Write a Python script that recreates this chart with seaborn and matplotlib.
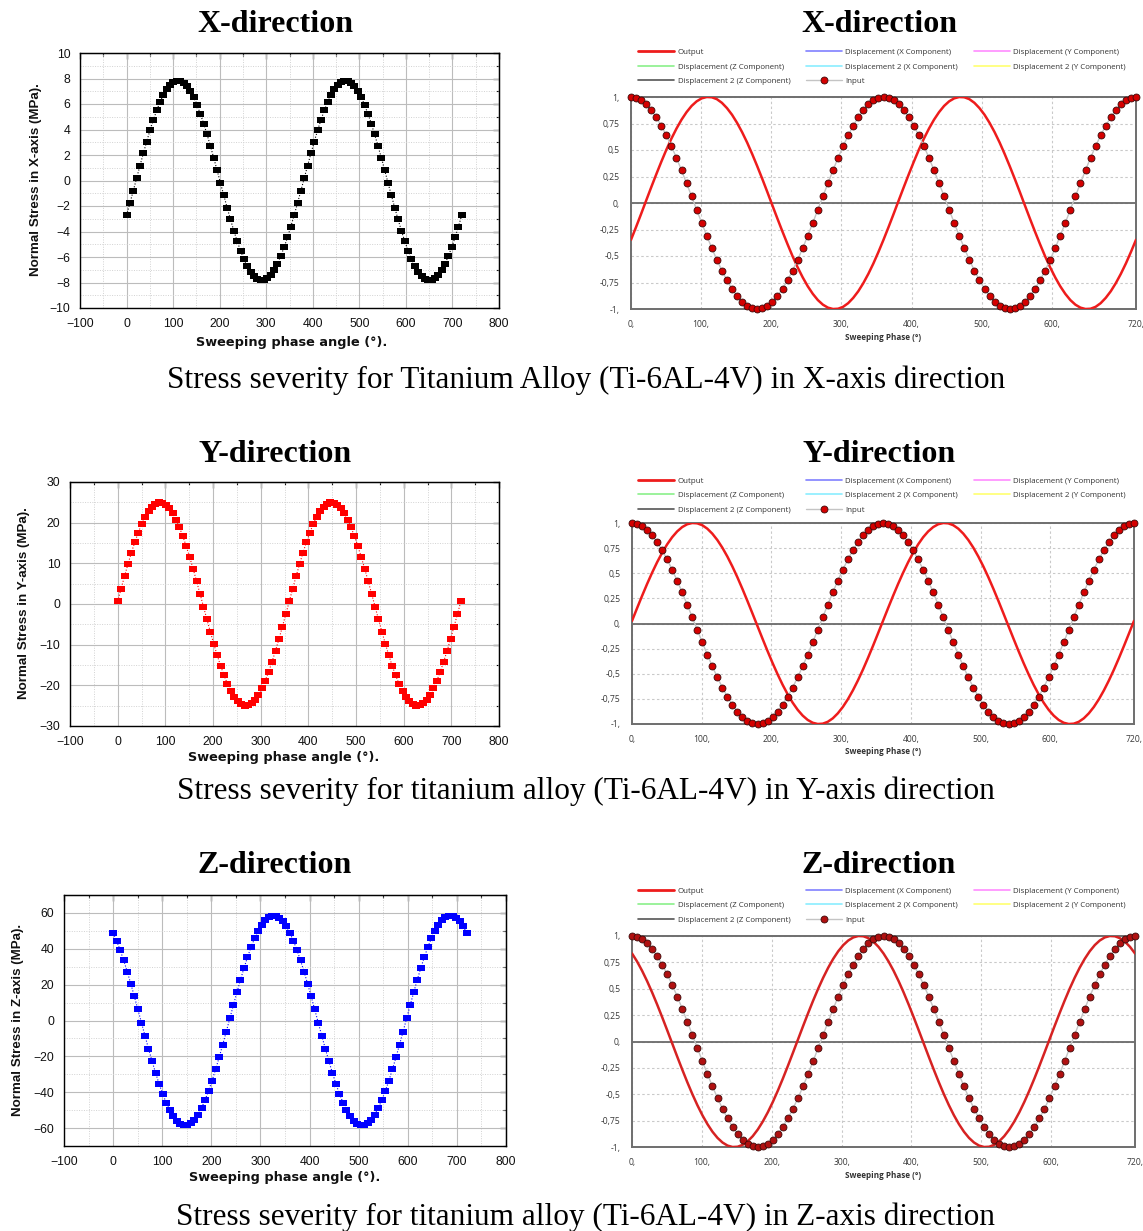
import numpy as np
import pandas as pd
import matplotlib
matplotlib.use("Agg")
import matplotlib.pyplot as plt
from matplotlib.lines import Line2D
from matplotlib.ticker import MultipleLocator, FixedLocator
import seaborn as sns

# ---------------------------------------------------------------- data
phase_deg = np.linspace(0, 720, 101)

stress_x = [
    -2.72, -1.78, -0.81, 0.18, 1.16, 2.12, 3.05, 3.94, 4.76, 5.50,
    6.16, 6.72, 7.18, 7.52, 7.74, 7.84, 7.82, 7.68, 7.41, 7.02,
    6.53, 5.93, 5.24, 4.47, 3.62, 2.72, 1.78, 0.81, -0.18, -1.16,
    -2.12, -3.05, -3.94, -4.76, -5.50, -6.16, -6.72, -7.18, -7.52, -7.74,
    -7.84, -7.82, -7.68, -7.41, -7.02, -6.53, -5.93, -5.24, -4.47, -3.62,
    -2.72, -1.78, -0.81, 0.18, 1.16, 2.12, 3.05, 3.94, 4.76, 5.50,
    6.16, 6.72, 7.18, 7.52, 7.74, 7.84, 7.82, 7.68, 7.41, 7.02,
    6.53, 5.93, 5.24, 4.47, 3.62, 2.72, 1.78, 0.81, -0.18, -1.16,
    -2.12, -3.05, -3.94, -4.76, -5.50, -6.16, -6.72, -7.18, -7.52, -7.74,
    -7.84, -7.82, -7.68, -7.41, -7.02, -6.53, -5.93, -5.24, -4.47, -3.62,
    -2.72,
]

stress_y = [
    0.65, 3.78, 6.85, 9.81, 12.61, 15.22, 17.58, 19.67, 21.45, 22.89,
    23.97, 24.67, 24.98, 24.90, 24.43, 23.57, 22.33, 20.75, 18.84, 16.63,
    14.16, 11.47, 8.59, 5.58, 2.48, -0.65, -3.78, -6.85, -9.81, -12.61,
    -15.22, -17.58, -19.67, -21.45, -22.89, -23.97, -24.67, -24.98, -24.90, -24.43,
    -23.57, -22.33, -20.75, -18.84, -16.63, -14.16, -11.47, -8.59, -5.58, -2.48,
    0.65, 3.78, 6.85, 9.81, 12.61, 15.22, 17.58, 19.67, 21.45, 22.89,
    23.97, 24.67, 24.98, 24.90, 24.43, 23.57, 22.33, 20.75, 18.84, 16.63,
    14.16, 11.47, 8.59, 5.58, 2.48, -0.65, -3.78, -6.85, -9.81, -12.61,
    -15.22, -17.58, -19.67, -21.45, -22.89, -23.97, -24.67, -24.98, -24.90, -24.43,
    -23.57, -22.33, -20.75, -18.84, -16.63, -14.16, -11.47, -8.59, -5.58, -2.48,
    0.65,
]

stress_z = [
    48.78, 44.35, 39.22, 33.47, 27.19, 20.49, 13.46, 6.22, -1.12, -8.45,
    -15.63, -22.57, -29.16, -35.29, -40.86, -45.78, -49.99, -53.40, -55.97, -57.66,
    -58.44, -58.30, -57.24, -55.28, -52.45, -48.78, -44.35, -39.22, -33.47, -27.19,
    -20.49, -13.46, -6.22, 1.12, 8.45, 15.63, 22.57, 29.16, 35.29, 40.86,
    45.78, 49.99, 53.40, 55.97, 57.66, 58.44, 58.30, 57.24, 55.28, 52.45,
    48.78, 44.35, 39.22, 33.47, 27.19, 20.49, 13.46, 6.22, -1.12, -8.45,
    -15.63, -22.57, -29.16, -35.29, -40.86, -45.78, -49.99, -53.40, -55.97, -57.66,
    -58.44, -58.30, -57.24, -55.28, -52.45, -48.78, -44.35, -39.22, -33.47, -27.19,
    -20.49, -13.46, -6.22, 1.12, 8.45, 15.63, 22.57, 29.16, 35.29, 40.86,
    45.78, 49.99, 53.40, 55.97, 57.66, 58.44, 58.30, 57.24, 55.28, 52.45,
    48.78,
]

input_signal = [
    1.000, 0.992, 0.969, 0.930, 0.876, 0.809, 0.729, 0.637, 0.536, 0.426,
    0.309, 0.187, 0.063, -0.063, -0.187, -0.309, -0.426, -0.536, -0.637, -0.729,
    -0.809, -0.876, -0.930, -0.969, -0.992, -1.000, -0.992, -0.969, -0.930, -0.876,
    -0.809, -0.729, -0.637, -0.536, -0.426, -0.309, -0.187, -0.063, 0.063, 0.187,
    0.309, 0.426, 0.536, 0.637, 0.729, 0.809, 0.876, 0.930, 0.969, 0.992,
    1.000, 0.992, 0.969, 0.930, 0.876, 0.809, 0.729, 0.637, 0.536, 0.426,
    0.309, 0.187, 0.063, -0.063, -0.187, -0.309, -0.426, -0.536, -0.637, -0.729,
    -0.809, -0.876, -0.930, -0.969, -0.992, -1.000, -0.992, -0.969, -0.930, -0.876,
    -0.809, -0.729, -0.637, -0.536, -0.426, -0.309, -0.187, -0.063, 0.063, 0.187,
    0.309, 0.426, 0.536, 0.637, 0.729, 0.809, 0.876, 0.930, 0.969, 0.992,
    1.000,
]

directions = ["X", "Y", "Z"]
captions = [
    "Stress severity for Titanium Alloy (Ti-6AL-4V) in X-axis direction",
    "Stress severity for titanium alloy (Ti-6AL-4V) in Y-axis direction",
    "Stress severity for titanium alloy (Ti-6AL-4V) in Z-axis direction",
]
response_yticks = [1.0, 0.75, 0.5, 0.25, 0.0, -0.25, -0.5, -0.75, -1.0]
response_ylabels = ["1,", "0,75", "0,5", "0,25", "0,", "-0,25", "-0,5", "-0,75", "-1,"]
response_xticks = [0, 100, 200, 300, 400, 500, 600, 720]
response_xlabels = ["0,", "100,", "200,", "300,", "400,", "500,", "600,", "720,"]
legend_labels = [
    "Output", "Displacement (Z Component)", "Displacement 2 (Z Component)",
    "Displacement (X Component)", "Displacement 2 (X Component)", "Input",
    "Displacement (Y Component)", "Displacement 2 (Y Component)",
]

# ---------------------------------------------------------------- layout
W, H = 1143, 1231
sns.set_style("white")
fig = plt.figure(figsize=(W / 100, H / 100), dpi=100)


def rect(left, top, right, bottom):
    return [left / W, 1 - bottom / H, (right - left) / W, (bottom - top) / H]


def fy(py):
    return 1 - py / H


TICK_FONT = "Liberation Sans"
UI_FONT = "Open Sans"
SERIF = "Liberation Serif"

rect_marker = [(-1, -0.78), (1, -0.78), (1, 0.78), (-1, 0.78), (-1, -0.78)]


def stress_panel(ax, values, color, ylim, major, minor, ylabel, ylab_xy, xlab_xy):
    df = pd.DataFrame({"phase": phase_deg, "stress": values})
    sns.lineplot(data=df, x="phase", y="stress", ax=ax, color=color,
                 linestyle=(0, (1, 1.6)), lw=0.8, marker=rect_marker,
                 markersize=6.0, markeredgewidth=0, markerfacecolor=color,
                 estimator=None, sort=False, zorder=3)
    ax.set_xlim(-100, 800)
    ax.set_ylim(*ylim)
    ax.xaxis.set_major_locator(MultipleLocator(100))
    ax.xaxis.set_minor_locator(MultipleLocator(50))
    ax.yaxis.set_major_locator(MultipleLocator(major))
    ax.yaxis.set_minor_locator(MultipleLocator(minor))
    ax.grid(which="major", color="#bcbcbc", lw=0.8, ls="-")
    ax.grid(which="minor", color="#d2d2d2", lw=0.7, ls=(0, (1, 1.5)))
    ax.set_axisbelow(True)
    for s in ax.spines.values():
        s.set_color("black")
        s.set_linewidth(1.0)
    ax.tick_params(which="major", direction="out", length=4.5, width=0.9,
                   color="black", labelsize=8.8, pad=2.5, labelcolor="#111111")
    ax.tick_params(which="minor", direction="out", length=2.5, width=0.8,
                   color="black")
    for lab in ax.get_xticklabels() + ax.get_yticklabels():
        lab.set_fontfamily(TICK_FONT)
    ax.set_xlabel("")
    ax.set_ylabel("")
    # mirrored inward ticks on the top and right frame
    top = ax.secondary_xaxis("top")
    top.xaxis.set_major_locator(MultipleLocator(100))
    top.xaxis.set_minor_locator(MultipleLocator(50))
    top.tick_params(which="both", direction="in", labeltop=False, color="black")
    top.tick_params(which="major", length=4, width=0.9)
    top.tick_params(which="minor", length=2.5, width=0.8)
    right = ax.secondary_yaxis("right")
    right.yaxis.set_major_locator(MultipleLocator(major))
    right.yaxis.set_minor_locator(MultipleLocator(minor))
    right.tick_params(which="both", direction="in", labelright=False, color="black")
    right.tick_params(which="major", length=4, width=0.9)
    right.tick_params(which="minor", length=2.5, width=0.8)
    fig.text(ylab_xy[0] / W, fy(ylab_xy[1]), ylabel, rotation=90,
             ha="center", va="center", fontsize=9.6, fontweight="bold",
             family=["Liberation Sans Narrow", "Liberation Sans"], color="#111111")
    fig.text(xlab_xy[0] / W, fy(xlab_xy[1]), "Sweeping phase angle (°).",
             ha="center", va="center", fontsize=9.3, fontweight="bold",
             family="DejaVu Sans", color="#111111")


def response_panel(ax, stress, out_color, in_color, xlab_y):
    stress = np.asarray(stress)
    output = stress / np.abs(stress).max()
    resp = pd.DataFrame({"phase": phase_deg, "output": output, "input": input_signal})
    sns.lineplot(data=resp, x="phase", y="output", ax=ax, color=out_color, lw=1.8,
                 estimator=None, sort=False, zorder=3)
    sns.lineplot(data=resp, x="phase", y="input", ax=ax, color="#c4c4c4", lw=1.0,
                 marker="o", markersize=5.0, markerfacecolor=in_color,
                 markeredgecolor="#3c0a0a", markeredgewidth=0.6,
                 estimator=None, sort=False, zorder=4, clip_on=False)
    ax.axhline(0, color="#6a6a6a", lw=1.3, zorder=2)
    ax.set_xlim(0, 720)
    ax.set_ylim(-1, 1)
    ax.yaxis.set_major_locator(FixedLocator(response_yticks))
    ax.set_yticklabels(response_ylabels)
    ax.xaxis.set_major_locator(FixedLocator(response_xticks))
    ax.set_xticklabels(response_xlabels)
    ax.grid(True, color="#c9c9c9", lw=0.8, ls=(0, (2.2, 2.2)))
    ax.set_axisbelow(True)
    for s in ax.spines.values():
        s.set_color("#6e6e6e")
        s.set_linewidth(1.4)
    ax.tick_params(length=3, width=0.8, color="#909090", labelsize=6.2,
                   labelcolor="#3a3a3a", pad=5)
    for lab in ax.get_xticklabels() + ax.get_yticklabels():
        lab.set_fontfamily(UI_FONT)
    ax.set_xlabel("")
    ax.set_ylabel("")
    fig.text(883 / W, fy(xlab_y), "Sweeping Phase (°)", ha="center", va="center",
             fontsize=5.9, fontweight="bold", family=UI_FONT, color="#333333")


def response_legend(ax, anchor_top, in_color):
    handles = [
        Line2D([], [], color="#ee1c1c", lw=2.0),
        Line2D([], [], color="#8af08a", lw=1.2),
        Line2D([], [], color="#555555", lw=1.2),
        Line2D([], [], color="#8080ff", lw=1.2),
        Line2D([], [], color="#8aeeff", lw=1.2),
        Line2D([], [], color="#c4c4c4", lw=1.0, marker="o", markersize=5.0,
               markerfacecolor=in_color, markeredgecolor="#3c0a0a", markeredgewidth=0.6),
        Line2D([], [], color="#ff8cff", lw=1.2),
        Line2D([], [], color="#ffff70", lw=1.2),
    ]
    leg = ax.legend(handles, legend_labels, ncol=3, loc="upper left",
                    bbox_to_anchor=(638 / W, fy(anchor_top)), bbox_transform=fig.transFigure,
                    frameon=False, handlelength=4.55, handletextpad=0.45,
                    columnspacing=1.95, labelspacing=0.88, borderpad=0, borderaxespad=0,
                    prop={"family": UI_FONT, "size": 5.7})
    for t in leg.get_texts():
        t.set_color("#333333")


# panel geometry (pixels): stress panels on the left, response panels on the right
left_rects = [rect(80, 53, 499, 308), rect(70, 482, 499, 726), rect(64, 895, 506, 1146)]
right_rects = [rect(631, 97, 1136, 309), rect(632, 523, 1134, 724), rect(632, 936, 1135, 1147)]
stress_sets = [stress_x, stress_y, stress_z]
stress_colors = ["black", "#ff0000", "#0000ff"]
ylims = [(-10, 10), (-30, 30), (-70, 70)]
majors = [2, 10, 20]
minors = [1, 5, 10]
ylab_pos = [(36, 180), (24, 603), (18, 1020)]
xlab_pos = [(292, 342), (284, 758), (285, 1178)]
title_base = [32, 462, 873]
caption_base = [388, 799, 1225]
resp_xlab_y = [337, 751, 1175]
legend_top = [48.5, 477, 887]
out_colors = ["#ee1c1c", "#ee1c1c", "#d62222"]
in_colors = ["#d40000", "#d40000", "#b01010"]

for i, d in enumerate(directions):
    axl = fig.add_axes(left_rects[i])
    stress_panel(axl, stress_sets[i], stress_colors[i], ylims[i], majors[i], minors[i],
                 f"Normal Stress in {d}-axis (MPa).", ylab_pos[i], xlab_pos[i])
    axr = fig.add_axes(right_rects[i])
    response_panel(axr, stress_sets[i], out_colors[i], in_colors[i], resp_xlab_y[i])
    response_legend(axr, legend_top[i], in_colors[i])

    for cx in (275, 879):
        fig.text(cx / W, fy(title_base[i]), f"{d}-direction", ha="center", va="baseline",
                 fontsize=23, fontweight="bold", family=SERIF, color="black")
    fig.text(586 / W, fy(caption_base[i]), captions[i], ha="center", va="baseline",
             fontsize=22.5, family=SERIF, color="black")

fig.savefig("out.png", dpi=100)
